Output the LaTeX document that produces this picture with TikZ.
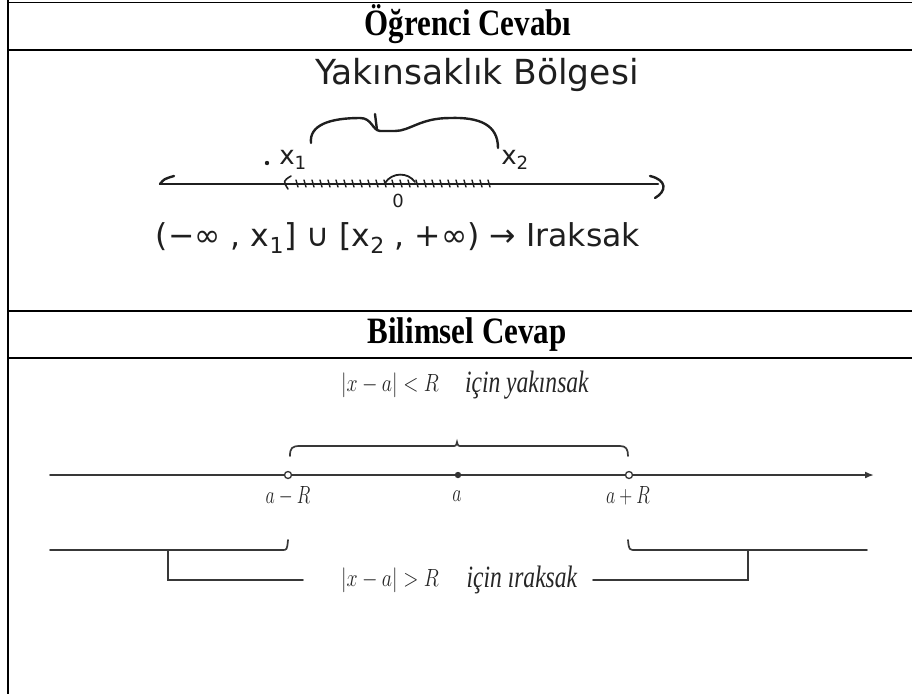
\documentclass[tikz,border=0pt]{standalone}
\usepackage{fontspec}
\setmainfont{Liberation Serif}
\newfontfamily\handfont{DejaVu Sans}
\usetikzlibrary{arrows.meta}

\begin{document}
\begin{tikzpicture}[x=1pt,y=-1pt,
  rule/.style={line width=1.4pt, black},
  hand/.style={line width=2.4pt, line cap=round, line join=round, black!88},
  sci/.style={line width=1.7pt, black!78, line cap=round},
  head/.style={font=\fontsize{31}{36}\selectfont\bfseries, inner sep=0},
  handtext/.style={font=\handfont\fontsize{30}{34}\selectfont, text=black!88, inner sep=0},
  scitext/.style={font=\fontsize{31}{34}\selectfont, text=black!85, inner sep=0},
  scilabel/.style={font=\fontsize{25}{28}\selectfont, text=black!85, inner sep=0},
  hollow/.style={circle, draw=black!80, fill=white, minimum size=7pt, inner sep=0, line width=1.3pt},
]
\useasboundingbox (0,0) rectangle (912,694);

% table rules
\coordinate (bTop) at (8,0);
\coordinate (bBot) at (8,694);
\draw[rule] (bTop) -- (bBot);
\foreach \yy in {2.5,50,311,358} \draw[rule] (8,\yy) -- (912,\yy);

% row headings
\node[head] (h1) at (468,24) {\scalebox{1}[1.2]{Öğrenci Cevabı}};
\node[head] (h2) at (467,335) {\scalebox{1}[1.2]{Bilimsel Cevap}};

% ---- handwritten answer ----
\node[handtext, font=\handfont\fontsize{34.5}{38}\selectfont] (yb) at (477,75) {Yakınsaklık Bölgesi};

% curly brace over the interval
\draw[hand] (311,143) .. controls (309,125) and (330,118) .. (360,118)
  .. controls (372,118) and (372,130) .. (380,131) -- (395,131)
  .. controls (410,131) and (420,118) .. (450,118)
  .. controls (480,117) and (498,125) .. (498,148);
\draw[hand] (375,114) -- (377,130);

\node[handtext, font=\handfont\fontsize{26}{30}\selectfont] (x1) at (293,160) {x\textsubscript{1}};
\fill[black!88] (267,163) circle (2.2pt);
\node[handtext, font=\handfont\fontsize{26}{30}\selectfont] (x2) at (515,160) {x\textsubscript{2}};

% hand-drawn number line
\coordinate (hS) at (160,184);
\coordinate (hE) at (658,184);
\draw[hand] (hS) -- (hE);
\draw[hand] (174,176) .. controls (164,179) .. (hS);
\draw[hand] (650,176) .. controls (667,180) and (667,191) .. (655,198);
\draw[hand, line width=1.6pt] (291,176) .. controls (283,181) .. (288,189);
\foreach \xx in {296,304,...,488} \draw[hand, line width=1.4pt] (\xx,180) -- (\xx+2,187);
\draw[hand, line width=1.8pt] (385,183) .. controls (392,172) and (408,172) .. (415,182);
\node[handtext, font=\handfont\fontsize{18}{20}\selectfont] (zero) at (398,201) {0};

\node[handtext, font=\handfont\fontsize{31.5}{34}\selectfont] (res) at (398,238) {(−∞ , x\textsubscript{1}] ∪ [x\textsubscript{2} , +∞) → Iraksak};

% ---- textbook answer ----
\node[scitext] (convm) at (390,385) {\scalebox{0.8}[1]{$|x-a|<R$}};
\node[scitext] (convt) at (527,385) {\scalebox{0.76}[1]{\textit{için yakınsak}}};

\coordinate (nlS) at (50,475);
\coordinate (nlE) at (874,475);
\coordinate (aM) at (458,475);
\draw[sci, -{Latex[length=9pt,width=7pt]}] (nlS) -- (nlE);
\draw[sci, line width=2.8pt] (288,475) -- (629,475);
\node[hollow] (aL) at (288,475) {};
\node[hollow] (aR) at (629,475) {};
\fill[black!80] (aM) circle (3.2pt);

% brace over the interval of convergence
\draw[sci] (290,456) .. controls (290,448) and (292,446) .. (300,446) -- (452,446)
  .. controls (456,446) .. (457,442) .. controls (458,446) .. (462,446) -- (620,446)
  .. controls (626,446) and (628,449) .. (628,456);

\node[scilabel] (laL) at (288,496) {\scalebox{0.72}[1]{$a-R$}};
\node[scilabel] (laM) at (457,496) {\scalebox{0.72}[1]{$a$}};
\node[scilabel] (laR) at (628,496) {\scalebox{0.72}[1]{$a+R$}};

% braces under the divergent parts
\draw[sci] (50,550) -- (282,550) .. controls (287,550) .. (288,540);
\draw[sci] (168,550) -- (168,580) -- (303,580);
\draw[sci] (628,540) .. controls (629,550) .. (636,550) -- (867,550);
\draw[sci] (748,550) -- (748,580) -- (593,580);

\node[scitext] (divm) at (390,580) {\scalebox{0.8}[1]{$|x-a|>R$}};
\node[scitext] (divt) at (522,580) {\scalebox{0.76}[1]{\textit{için ıraksak}}};
\end{tikzpicture}
\end{document}
